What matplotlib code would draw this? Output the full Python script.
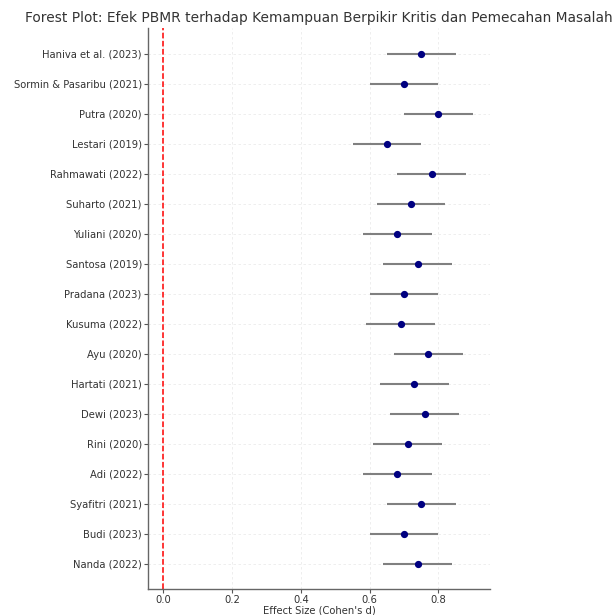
import matplotlib
matplotlib.use("Agg")
import matplotlib.pyplot as plt
import numpy as np

studies = ["Haniva et al. (2023)", "Sormin & Pasaribu (2021)", "Putra (2020)", "Lestari (2019)",
           "Rahmawati (2022)", "Suharto (2021)", "Yuliani (2020)", "Santosa (2019)",
           "Pradana (2023)", "Kusuma (2022)", "Ayu (2020)", "Hartati (2021)", "Dewi (2023)",
           "Rini (2020)", "Adi (2022)", "Syafitri (2021)", "Budi (2023)", "Nanda (2022)"]
effect = [0.75, 0.70, 0.80, 0.65, 0.78, 0.72, 0.68, 0.74, 0.70, 0.69, 0.77, 0.73, 0.76,
          0.71, 0.68, 0.75, 0.70, 0.74]
ci_low = [0.65, 0.60, 0.70, 0.55, 0.68, 0.62, 0.58, 0.64, 0.60, 0.59, 0.67, 0.63, 0.66,
          0.61, 0.58, 0.65, 0.60, 0.64]
ci_high = [0.85, 0.80, 0.90, 0.75, 0.88, 0.82, 0.78, 0.84, 0.80, 0.79, 0.87, 0.83, 0.86,
           0.81, 0.78, 0.85, 0.80, 0.84]
xticks = [0.0, 0.2, 0.4, 0.6, 0.8]

fig = plt.figure(figsize=(6.12, 6.15), dpi=100)
ax = fig.add_axes([148/612, 1-589/615, (490-148)/612, (589-28)/615])

n = len(studies)
y = np.arange(n)[::-1]
eff = np.array(effect)
lo = eff - np.array(ci_low)
hi = np.array(ci_high) - eff
ax.errorbar(eff, y, xerr=[lo, hi], fmt='o', color='navy', ecolor='gray',
            elinewidth=1.5, capsize=0, markersize=4.2, zorder=3)
ax.axvline(0, color='red', linestyle='--', linewidth=1.1, zorder=2)

ax.set_yticks(y)
ax.set_yticklabels(studies)
ax.set_xticks(xticks)
ax.set_xlim(-0.045, 0.95)
ax.set_ylim(-0.85, n - 1 + 0.85)
ax.grid(True, linestyle=(0, (3, 3)), linewidth=0.6, color='#ebebeb', zorder=0)
ax.set_axisbelow(True)
for s in ['top', 'right']:
    ax.spines[s].set_visible(False)
for s in ['left', 'bottom']:
    ax.spines[s].set_color('#666666')
    ax.spines[s].set_linewidth(1.0)
ax.tick_params(axis='both', labelsize=7.2, colors='#555555', labelcolor='#333333', length=3, width=0.8, pad=1.5)
ax.set_xlabel("Effect Size (Cohen's d)", fontsize=7.2, color='#333333', labelpad=0.5)
fig.text(25/612, 1-18/615, "Forest Plot: Efek PBMR terhadap Kemampuan Berpikir Kritis dan Pemecahan Masalah",
         fontsize=9.9, color='#333333', va='center', ha='left')
fig.savefig("out.png", dpi=100)
